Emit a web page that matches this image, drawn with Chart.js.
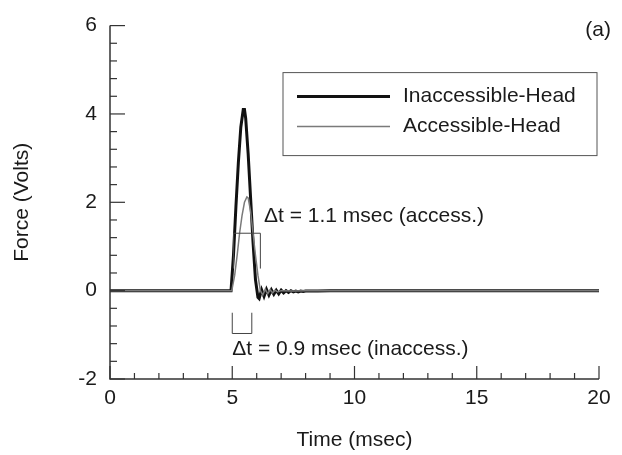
<!DOCTYPE html>
<html lang="en">

<head>
    <meta charset="UTF-8">
    <title>Force vs time</title>
    <script src="https://cdn.jsdelivr.net/npm/chart.js"></script>
    <style>
        body { margin: 0; background: #ffffff; }
    </style>
</head>

<body>
    <canvas id="myChart" width="622" height="455"></canvas>

    <script>
        // Inaccessible-Head (thick black trace)
        const timeInacc = [ 0, 4.95, 5.05, 5.15, 5.25, 5.35, 5.45, 5.5, 5.55, 5.65, 5.75, 5.85, 5.95, 6.05, 6.1, 6.2, 6.3, 6.4, 6.5, 6.6, 6.7, 6.8, 6.9, 7.0, 7.1, 7.2, 7.3, 7.4, 7.5, 7.6, 7.7, 7.8, 7.9, 8.0, 8.5, 9, 10, 12, 20 ];
        const forceInacc = [ 0, 0, 0.8, 1.9, 2.9, 3.7, 4.1, 4.1, 3.9, 3.1, 2.1, 1.1, 0.25, -0.15, -0.18, 0.02, -0.13, 0.03, -0.1, 0.02, -0.08, 0.01, -0.07, 0.01, -0.05, 0.0, -0.04, 0.0, -0.03, -0.01, -0.03, -0.01, -0.02, -0.01, -0.01, 0, 0, 0, 0 ];

        // Accessible-Head (thin gray trace)
        const timeAcc = [ 0, 4.98, 5.1, 5.2, 5.3, 5.4, 5.5, 5.6, 5.65, 5.75, 5.85, 5.95, 6.05, 6.15, 6.25, 6.35, 6.45, 6.55, 6.65, 6.75, 6.85, 7.0, 7.5, 8, 20 ];
        const forceAcc = [ 0, 0, 0.35, 0.8, 1.3, 1.7, 2.0, 2.12, 2.1, 1.8, 1.3, 0.8, 0.35, 0.0, -0.1, 0.03, -0.07, 0.02, -0.05, 0.01, -0.03, 0, -0.01, 0, 0 ];

        const seriesLabels = [ 'Inaccessible-Head', 'Accessible-Head' ];

        // axis ticks
        const xMajor = [ 0, 5, 10, 15, 20 ];
        const xMinor = [ 1, 2, 3, 4, 6, 7, 8, 9, 11, 12, 13, 14, 16, 17, 18, 19 ];
        const yMajor = [ -2, 0, 2, 4, 6 ];
        const yMinor = [ -1.6, -1.2, -0.8, -0.4, 0.4, 0.8, 1.2, 1.6, 2.4, 2.8, 3.2, 3.6, 4.4, 4.8, 5.2, 5.6 ];

        // pulse width markers: [start, end] in msec
        const dtAccess = [ 5.05, 6.15 ];
        const dtInaccess = [ 5.0, 5.8 ];

        const FONT = '21px "Liberation Sans", Arial, sans-serif';
        const INK = '#1a1a1a';

        const toPoints = ( xs, ys ) => xs.map( ( x, i ) => ( { x: x, y: ys[ i ] } ) );

        // draws inward ticks, axes, legend box and the delta-t notes
        const decor = {
            id: 'decor',
            afterDatasetsDraw( chart ) {
                const ctx = chart.ctx;
                const xs = chart.scales.x;
                const ys = chart.scales.y;
                const area = chart.chartArea;
                ctx.save();
                ctx.strokeStyle = '#333333';
                ctx.lineWidth = 1.5;

                // axis lines
                ctx.beginPath();
                ctx.moveTo( area.left, area.top );
                ctx.lineTo( area.left, area.bottom );
                ctx.lineTo( area.right, area.bottom );
                ctx.stroke();

                ctx.lineWidth = 1.2;
                const tick = ( x1, y1, x2, y2 ) => {
                    ctx.beginPath();
                    ctx.moveTo( x1, y1 );
                    ctx.lineTo( x2, y2 );
                    ctx.stroke();
                };
                yMajor.forEach( v => { const p = ys.getPixelForValue( v ); tick( area.left, p, area.left + 15, p ); } );
                yMinor.forEach( v => { const p = ys.getPixelForValue( v ); tick( area.left, p, area.left + 7, p ); } );
                xMajor.forEach( v => { const p = xs.getPixelForValue( v ); tick( p, area.bottom, p, area.bottom - 13 ); } );
                xMinor.forEach( v => { const p = xs.getPixelForValue( v ); tick( p, area.bottom, p, area.bottom - 6 ); } );

                // legend box, entries in seriesLabels order
                const bx = area.left + 173, by = area.top + 47, bw = 314, bh = 83;
                ctx.strokeStyle = '#555555';
                ctx.lineWidth = 1;
                ctx.strokeRect( bx, by, bw, bh );
                ctx.font = FONT;
                ctx.fillStyle = INK;
                ctx.textBaseline = 'middle';
                seriesLabels.forEach( ( label, i ) => {
                    const ds = chart.data.datasets.find( d => d.label === label );
                    const ly = by + 24 + i * 30;
                    ctx.strokeStyle = ds.borderColor;
                    ctx.lineWidth = ds.borderWidth;
                    tick( bx + 14, ly, bx + 107, ly );
                    ctx.fillText( label, bx + 120, ly );
                } );

                // (a) panel tag
                ctx.textAlign = 'right';
                ctx.fillText( '(a)', area.right + 12, area.top + 5 );
                ctx.textAlign = 'left';

                // access. bracket (open at bottom)
                ctx.strokeStyle = '#444444';
                ctx.lineWidth = 1;
                const a1 = xs.getPixelForValue( dtAccess[ 0 ] ), a2 = xs.getPixelForValue( dtAccess[ 1 ] );
                const aTop = ys.getPixelForValue( 1.3 ), aBot = ys.getPixelForValue( 0.5 );
                ctx.beginPath();
                ctx.moveTo( a1, aBot );
                ctx.lineTo( a1, aTop );
                ctx.lineTo( a2, aTop );
                ctx.lineTo( a2, aBot );
                ctx.stroke();
                ctx.fillText( '\u0394t = 1.1 msec (access.)', xs.getPixelForValue( 6.3 ), ys.getPixelForValue( 1.68 ) );

                // inaccess. bracket (open at top)
                const b1 = xs.getPixelForValue( dtInaccess[ 0 ] ), b2 = xs.getPixelForValue( dtInaccess[ 1 ] );
                const bTop = ys.getPixelForValue( -0.5 ), bBot = ys.getPixelForValue( -0.97 );
                ctx.beginPath();
                ctx.moveTo( b1, bTop );
                ctx.lineTo( b1, bBot );
                ctx.lineTo( b2, bBot );
                ctx.lineTo( b2, bTop );
                ctx.stroke();
                ctx.fillText( '\u0394t = 0.9 msec (inaccess.)', xs.getPixelForValue( 5.0 ), ys.getPixelForValue( -1.32 ) );

                ctx.restore();
            }
        };

        const ctx = document.getElementById( 'myChart' ).getContext( '2d' );
        const myChart = new Chart( ctx, {
            type: 'line',
            data: {
                datasets: [
                    {
                        label: seriesLabels[ 1 ],
                        data: toPoints( timeAcc, forceAcc ),
                        borderColor: '#7a7a7a',
                        borderWidth: 1.5,
                        pointRadius: 0,
                        tension: 0
                    },
                    {
                        label: seriesLabels[ 0 ],
                        data: toPoints( timeInacc, forceInacc ),
                        borderColor: '#111111',
                        borderWidth: 3,
                        pointRadius: 0,
                        tension: 0
                    }
                ]
            },
            options: {
                responsive: false,
                animation: false,
                layout: { padding: { top: 22, right: 23, left: 0, bottom: 0 } },
                plugins: {
                    legend: { display: false },
                    tooltip: { enabled: false }
                },
                scales: {
                    x: {
                        type: 'linear',
                        min: 0,
                        max: 20,
                        afterBuildTicks: s => { s.ticks = xMajor.map( v => ( { value: v } ) ); },
                        afterFit: s => { s.height = 76; },
                        grid: { display: false, drawTicks: false },
                        border: { display: false },
                        ticks: { color: INK, font: { family: '"Liberation Sans", Arial', size: 21 }, padding: 7, maxRotation: 0 },
                        title: {
                            display: true,
                            text: 'Time (msec)',
                            color: INK,
                            font: { family: '"Liberation Sans", Arial', size: 21 },
                            padding: { top: 0, bottom: 2 }
                        }
                    },
                    y: {
                        type: 'linear',
                        min: -2,
                        max: 6,
                        afterBuildTicks: s => { s.ticks = yMajor.map( v => ( { value: v } ) ); },
                        afterFit: s => { s.width = 110; },
                        grid: { display: false, drawTicks: false },
                        border: { display: false },
                        ticks: { color: INK, font: { family: '"Liberation Sans", Arial', size: 21 }, padding: 13 },
                        title: {
                            display: true,
                            text: 'Force (Volts)',
                            color: INK,
                            font: { family: '"Liberation Sans", Arial', size: 21 },
                            padding: { top: 10, bottom: 0 }
                        }
                    }
                }
            },
            plugins: [ decor ]
        } );
    </script>
</body>

</html>
